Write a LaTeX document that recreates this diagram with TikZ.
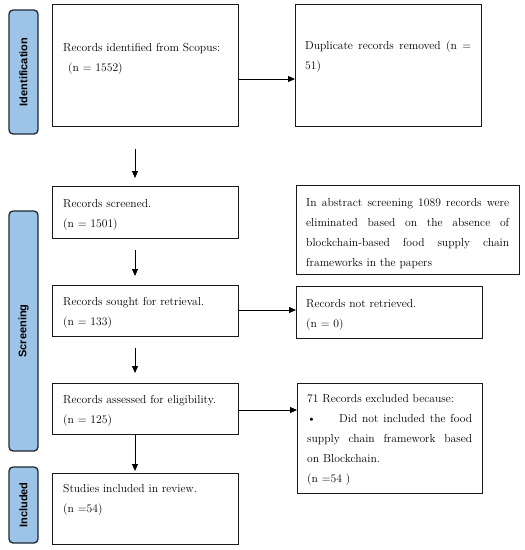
\documentclass[tikz,border=0pt]{standalone}
\usepackage{fontspec}
\newfontfamily\lblfont{Liberation Sans}
\usetikzlibrary{arrows.meta}
\definecolor{lblfill}{RGB}{157,195,230}
\definecolor{lbldraw}{RGB}{30,40,52}
\newcommand\jl[2]{\leavevmode\hbox to #1{#2}}
\begin{document}
\begin{tikzpicture}[x=1pt,y=-1pt,
  box/.style={draw=black!90, line width=1.2pt, anchor=north west, inner sep=0pt},
  txt/.style={anchor=north west, inner sep=0pt, align=left, font=\fontsize{11.6}{20}\selectfont},
  phase/.style={draw=lbldraw, fill=lblfill, line width=1.3pt, rounded corners=4pt, rotate=90,
    minimum height=29pt, inner sep=0pt, font=\lblfont\bfseries\fontsize{11}{13}\selectfont},
  arr/.style={line width=0.8pt, -{Triangle[length=7pt,width=6pt]}}]
\useasboundingbox (0,0) rectangle (525,550);
% phase labels
\node[phase, minimum width=124pt] (pid) at (23.5,72) {Identification};
\node[phase, minimum width=240pt] (psc) at (23.5,331) {Screening};
\node[phase, minimum width=76pt] (pin) at (23.5,505) {Included};
% boxes
\node[box, minimum width=186pt, minimum height=122pt] (b1) at (52,4) {};
\node[box, minimum width=186pt, minimum height=122pt] (b2) at (295,4) {};
\node[box, minimum width=186pt, minimum height=52pt] (b3) at (52,186) {};
\node[box, minimum width=223pt, minimum height=89pt] (ab) at (296,185) {};
\node[box, minimum width=186pt, minimum height=51pt] (b4) at (52,285) {};
\node[box, minimum width=186pt, minimum height=52pt] (nr) at (296,286) {};
\node[box, minimum width=186pt, minimum height=51pt] (b5) at (52,383) {};
\node[box, minimum width=185pt, minimum height=110pt] (b6) at (297,383) {};
\node[box, minimum width=186pt, minimum height=71pt] (b7) at (52,473) {};
% texts
\node[txt, text width=175pt] (t1) at ([shift={(11,39)}]b1.north west)
  {Records identified from Scopus:\\\hspace*{5pt}(n = 1552)};
\node[txt, text width=170pt] (t2) at ([shift={(10,37)}]b2.north west)
  {\jl{166pt}{Duplicate \hfill records \hfill removed \hfill (n \hfill =}\\51)};
\node[txt, text width=205pt] (t3) at ([shift={(11,13)}]b3.north west)
  {Records screened.\\(n = 1501)};
\node[txt, text width=205pt] (tab) at ([shift={(10,13)}]ab.north west)
  {\jl{203pt}{In \hfill abstract \hfill screening \hfill 1089 \hfill records \hfill were}\\
   \jl{203pt}{eliminated \hfill based \hfill on \hfill the \hfill absence \hfill of}\\
   \jl{203pt}{blockchain-based \hfill food \hfill supply \hfill chain}\\
   frameworks in the papers};
\node[txt, text width=175pt] (t4) at ([shift={(11,12)}]b4.north west)
  {Records sought for retrieval.\\(n = 133)};
\node[txt, text width=175pt] (tnr) at ([shift={(10,13)}]nr.north west)
  {Records not retrieved.\\(n = 0)};
\node[txt, text width=175pt] (t5) at ([shift={(11,12)}]b5.north west)
  {Records assessed for eligibility.\\(n = 125)};
\node[txt, text width=170pt] (t6) at ([shift={(10,11)}]b6.north west)
  {71 Records excluded because:\\
   \jl{165pt}{\hbox to 32pt{\textbullet\hfil}Did \hfill not \hfill included \hfill the \hfill food}\\
   \jl{165pt}{supply \hfill chain \hfill framework \hfill based}\\
   on Blockchain.\\
   (n =54 )};
\node[txt, text width=175pt] (t7) at ([shift={(11,11)}]b7.north west)
  {Studies included in review.\\(n =54)};
% connectors
\draw[arr] (b1.east |- 0,79) -- (b2.west |- 0,79);
\draw[arr] (b4.east |- 0,310) -- (nr.west |- 0,310);
\draw[arr] (b5.east |- 0,410) -- (b6.west |- 0,410);
\draw[arr, shorten <=22pt, shorten >=8pt] (b1.south -| 135,0) -- (b3.north -| 135,0);
\draw[arr, shorten <=11pt, shorten >=9pt] (b3.south -| 135,0) -- (b4.north -| 135,0);
\draw[arr, shorten <=11pt, shorten >=10pt] (b4.south -| 135,0) -- (b5.north -| 135,0);
\draw[arr, shorten >=2pt] (b5.south -| 135,0) -- (b7.north -| 135,0);
\end{tikzpicture}
\end{document}
